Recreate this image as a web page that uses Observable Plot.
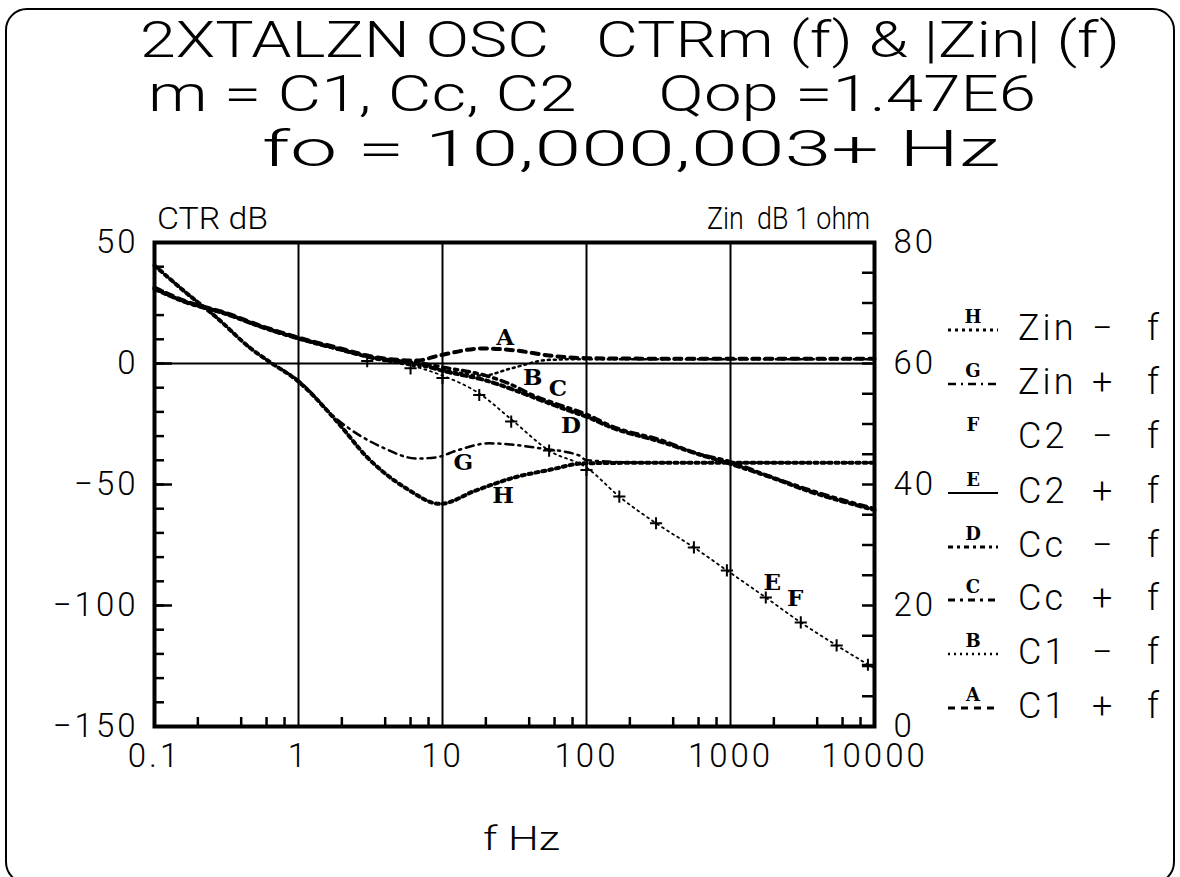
<!DOCTYPE html>
<html><head><meta charset="utf-8">
<script src="https://cdn.jsdelivr.net/npm/d3@7"></script>
<script src="https://cdn.jsdelivr.net/npm/@observablehq/plot@0.6"></script>
<style>
body{margin:0;background:#fff;}
#fig{position:relative;width:1180px;height:877px;overflow:hidden;font-family:Roboto,"DejaVu Sans",sans-serif;color:#000;background:#fff;}
#border{position:absolute;left:5px;top:8px;width:1170px;height:876px;border:2.5px solid #000;border-radius:22px;box-sizing:border-box;}
.t{position:absolute;white-space:pre;line-height:1;transform-origin:0 50%;}
#chart{position:absolute;left:0;top:200px;}
</style></head><body>
<div id="fig"><div id="border"></div><div id="chart"></div></div>
<script>
// ---------- data ----------
const seriesKeys   = ["A","B","C","D","E","F","G","H"];
const seriesNames  = ["C1 + f","C1 − f","Cc + f","Cc − f","C2 + f","C2 − f","Zin + f","Zin − f"];
const seriesAxis   = ["ctr","ctr","ctr","ctr","ctr","ctr","zin","zin"];

const fA = [0.1,0.16,0.32,0.54,1,1.85,3.5,6.6,9.5,19,32,55,100,300,1000,3000,10000];
const vA = [31.4,26,20.7,15.7,10.7,6.6,2.5,1.2,3.3,6.2,5.4,3.3,2.2,2,2,2,2];
const fB = [0.1,0.16,0.32,0.54,1,1.85,3.5,6.6,10,19,30,55,100,1000,10000];
const vB = [31,25.5,20.2,15.2,10.2,6,2,-1,-2.5,-5,-2,1.5,1.8,1.8,1.8];
const fC = [0.1,0.16,0.32,0.54,1,1.85,3.5,6.6,10,20,29,42,72,100,151,335,575,980,1758,3640,10000];
const vC = [31,25.8,20.5,15.5,10.5,6.3,2.2,0.5,-1.5,-5,-8.3,-13,-18,-21,-26,-31.8,-37,-40.5,-46,-52.5,-60];
const fD = [0.1,0.16,0.32,0.54,1,1.85,3.5,6.6,10,20,30,50,80,100,150,335,600,1000,1800,3600,10000];
const vD = [30.8,25.6,20.3,15.3,10.3,6.1,2,0,-3,-7,-10.5,-15.5,-20,-22,-26.5,-32.5,-37.5,-41.5,-46.5,-53,-60.5];
const fE = [0.1,0.16,0.32,0.54,1,1.85,3.5,6.6,10,18,30.6,55,100,169,304,557,944,1758,3076,5457,10000];
const vE = [30.6,25.4,20,15,10,5.8,1.5,-1.5,-5,-12.4,-23.5,-36,-43,-55,-66,-76,-85.5,-96.7,-107,-116.5,-126];
const fF = [3,6,10,18,30,55,100,169,304,557,944,1758,3076,5457,9000];
const vF = [1,-2,-6,-13,-24,-36,-44,-55,-66,-76,-85.5,-96.7,-107,-116.5,-124.5];
// Zin series in dB re 1 ohm (right axis)
const fG = [0.1,0.16,0.27,0.46,0.61,1,1.85,3.85,6.6,9.1,12.5,21,47,89,100,300,1000,10000];
const vG = [76.2,72,67.6,62.6,60.5,57.2,50.8,46.1,44.3,44.5,45.6,46.8,46,44.8,44,43.6,43.6,43.6];
const fH = [0.1,0.16,0.27,0.46,0.61,1,1.85,3,5.65,9.6,17,32,55,96,300,1000,10000];
const vH = [76.2,72,67.6,62.6,60.5,57,50.4,44.5,39.3,36.8,39,41.2,42.4,43.5,43.6,43.6,43.6];

const labelF = [27.9,43.4,64.9,79.8,1995,2884,14.3,27];
const labelV = [10.7,-5.8,-10.3,-25.6,-90.5,-97.1,-40.9,-54.5];

const xTicks = [0.1,1,10,100,1000,10000];
const xTickLabels = ["0.1","1","10","100","1000","10000"];
const ctrTicks = [50,0,-50,-100,-150];
const ctrTickLabels = ["50","0","−50","−100","−150"];
const zinTicks = [80,60,40,20,0];
const zinTickLabels = ["80","60","40","20","0"];
const gridDecades = [1,10,100,1000];

// ---------- styles ----------
const styles = {
  A:{w:4,dash:"7,6"}, B:{w:2.5,dash:"2,4"}, C:{w:3.5,dash:"7,5,3,5"}, D:{w:4,dash:"5,4,3,4"},
  E:{w:1.8,dash:"2,4",legendDash:null}, F:{marker:true}, G:{w:2.5,dash:"8,5,2,5"}, H:{w:4,dash:"3,4"}
};

// ---------- build ----------
const zinToCtr = z => z*2.5 - 150;   // right axis 0..80 dB maps onto -150..50
const fArr = {A:fA,B:fB,C:fC,D:fD,E:fE,F:fF,G:fG,H:fH};
const vArr = {A:vA,B:vB,C:vC,D:vD,E:vE,F:vF,G:vG,H:vH};
const rows = [];
seriesKeys.forEach((k,i)=>{
  fArr[k].forEach((f,j)=>{
    const v = vArr[k][j];
    rows.push({key:k, f, y: seriesAxis[i]==="zin" ? zinToCtr(v) : v});
  });
});
const labels = seriesKeys.map((k,i)=>({key:k, f:labelF[i], y:labelV[i]}));

const W = 1180, H = 677, mL = 154, mR = 306, mT = 42, mB = 151;
const pW = W - mL - mR, pH = H - mT - mB;
const leftMinor = d3.range(-150, 51, 10);
const leftMajor = leftMinor.filter(d => d % 50 === 0);
const rightMinor = d3.range(0, 81, 5).map(zinToCtr);
const xMinor = [];
for (const dec of [0.1,1,10,100,1000]) for (const m of [2,4,6,8]) xMinor.push(dec*m);

const marks = [
  Plot.ruleX(gridDecades, {stroke:"#000", strokeWidth:2}),
  Plot.ruleY([0], {stroke:"#000", strokeWidth:2}),
  Plot.tickY(leftMinor, {y:d=>d, insetRight:pW-10, strokeWidth:2.5}),
  Plot.tickY(leftMajor, {y:d=>d, insetRight:pW-18, strokeWidth:2.5}),
  Plot.tickY(rightMinor, {y:d=>d, insetLeft:pW-12, strokeWidth:2.5}),
  Plot.tickX(xMinor, {x:d=>d, insetTop:pH-9, strokeWidth:2.5}),
];
for (const k of seriesKeys) {
  const s = styles[k];
  const data = rows.filter(r=>r.key===k);
  if (s.marker) {
    marks.push(Plot.dot(data, {x:"f", y:"y", symbol:"plus", r:4, stroke:"#000", strokeWidth:2}));
  } else {
    marks.push(Plot.line(data, {x:"f", y:"y", stroke:"#000", strokeWidth:s.w, strokeDasharray:s.dash, curve:"monotone-x"}));
  }
}
marks.push(Plot.text(labels, {x:"f", y:"y", text:"key", fontFamily:"DejaVu Serif", fontWeight:"bold", fontSize:23, letterSpacing:0}));
marks.push(Plot.frame({stroke:"#000", strokeWidth:4}));
marks.push(Plot.axisX({ticks:xTicks, tickFormat:d=>xTickLabels[xTicks.indexOf(d)], tickSize:0, tickPadding:17, label:null}));
marks.push(Plot.axisY({anchor:"left", ticks:ctrTicks, tickFormat:d=>ctrTickLabels[ctrTicks.indexOf(d)], tickSize:0, tickPadding:16, label:null}));
marks.push(Plot.axisY({anchor:"right", ticks:zinTicks.map(zinToCtr), tickFormat:d=>zinTickLabels[zinTicks.map(zinToCtr).indexOf(d)], tickSize:0, tickPadding:19, label:null}));

const chart = Plot.plot({
  width:W, height:H, marginLeft:mL, marginRight:mR, marginTop:mT, marginBottom:mB,
  x:{type:"log", domain:[0.1,10000]},
  y:{domain:[-150,50]},
  style:{fontFamily:"Roboto", fontSize:"33px", fontWeight:"300", letterSpacing:"3px", color:"#000", background:"transparent", overflow:"visible"},
  marks
});
document.getElementById("chart").appendChild(chart);

// ---------- texts ----------
const fig = document.getElementById("fig");
function place(text, left, cy, width, size, extra={}) {
  const el = document.createElement("div");
  el.className = "t";
  el.textContent = text;
  el.style.fontSize = size + "px";
  el.style.left = left + "px";
  el.style.top = (cy - size*0.5) + "px";
  Object.assign(el.style, extra);
  fig.appendChild(el);
  if (width) {
    const w = el.getBoundingClientRect().width;
    el.style.transform = `scaleX(${width / w})`;
  }
  return el;
}
const thin = {fontWeight:"300"};
place("2XTALZN OSC   CTRm (f) & |Zin| (f)", 140, 40, 980, 50, thin);
place("m = C1, Cc, C2     Qop =1.47E6", 148, 94, 888, 50, thin);
place("fo = 10,000,003+ Hz", 262, 149, 738, 50, thin);
place("CTR dB", 157, 218, 111, 31, thin);
place("Zin  dB 1 ohm", 707, 218, 163, 31, thin);
place("f Hz", 483, 838, 77, 33, thin);

// ---------- legend ----------
const legendOrder = ["H","G","F","E","D","C","B","A"];
const legendY = [328,382,436,491,545,598,652,706];
legendOrder.forEach((k,i)=>{
  const idx = seriesKeys.indexOf(k);
  const cy = legendY[i];
  const s = styles[k];
  const ns = "http://www.w3.org/2000/svg";
  const svg = document.createElementNS(ns,"svg");
  svg.setAttribute("width",56); svg.setAttribute("height",40);
  svg.style.position="absolute"; svg.style.left="945px"; svg.style.top=(cy-26)+"px";
  const t = document.createElementNS(ns,"text");
  t.setAttribute("x",28); t.setAttribute("y",21); t.setAttribute("text-anchor","middle");
  t.setAttribute("font-family","DejaVu Serif"); t.setAttribute("font-weight","bold"); t.setAttribute("font-size","18");
  t.textContent = k; svg.appendChild(t);
  if (!s.marker) {
    const l = document.createElementNS(ns,"line");
    l.setAttribute("x1",3); l.setAttribute("x2",53); l.setAttribute("y1",28); l.setAttribute("y2",28);
    l.setAttribute("stroke","#000");
    l.setAttribute("stroke-width", Math.min(s.w,3));
    const dash = s.legendDash !== undefined ? s.legendDash : s.dash;
    if (dash) l.setAttribute("stroke-dasharray", dash);
    svg.appendChild(l);
  }
  fig.appendChild(svg);
  const parts = seriesNames[idx].split(" ");
  place(parts[0], 1018, cy, null, 36, {letterSpacing:"3px", fontWeight:"300"});
  place(parts[1], 1092, cy, null, 36, thin);
  place(parts[2], 1147, cy, null, 36, thin);
});
</script>
</body></html>
